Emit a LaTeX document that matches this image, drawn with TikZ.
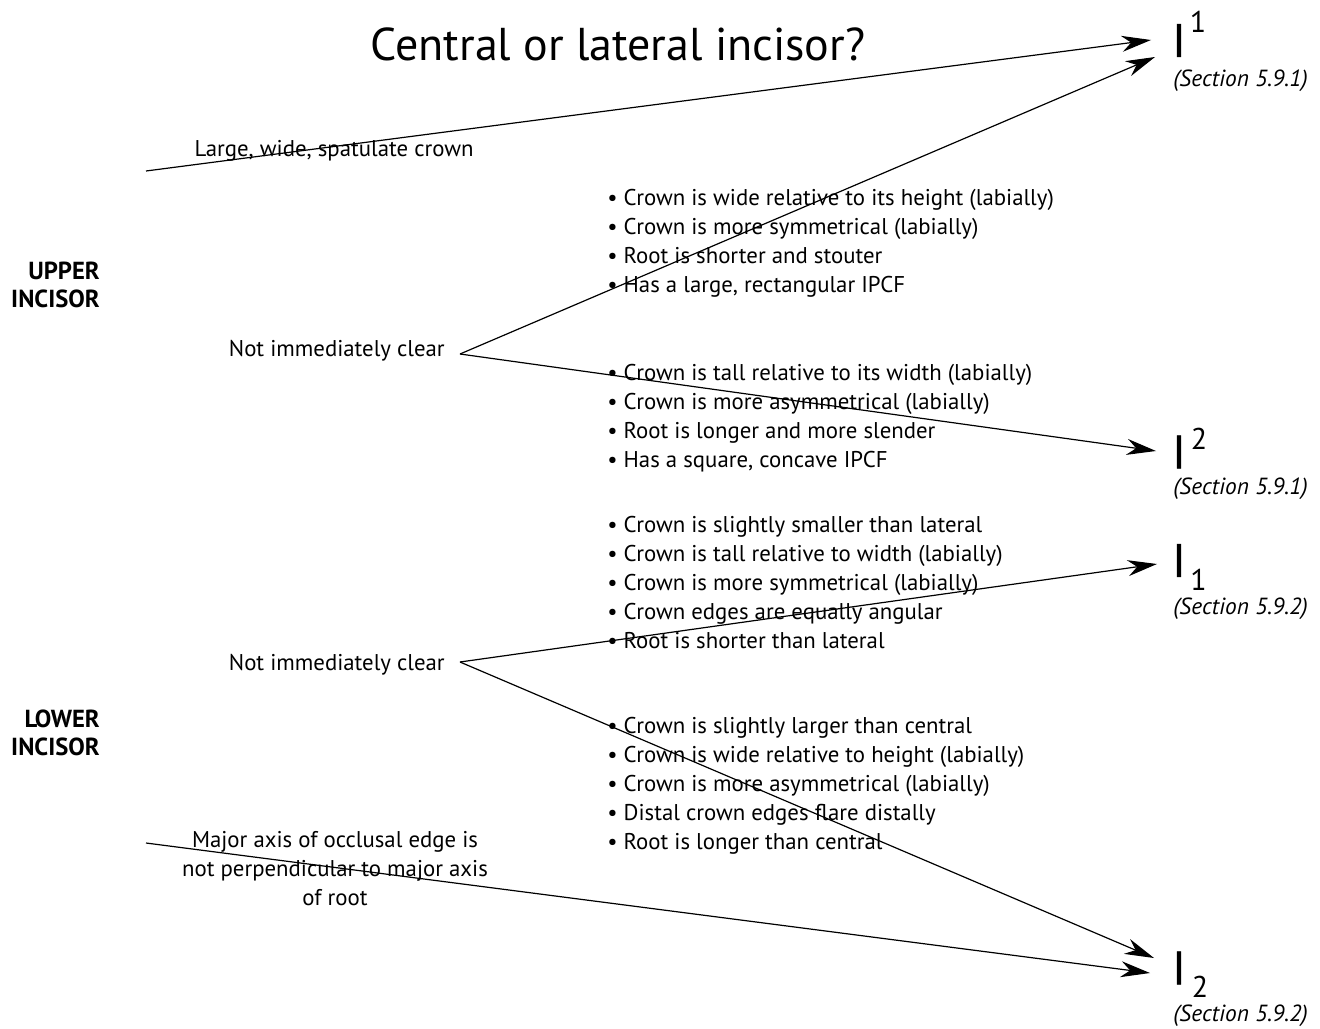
\documentclass[tikz,border=0pt]{standalone}
\usepackage{fontspec}
\setmainfont{PT Sans}
\newfontfamily\bigIfont[FakeBold=1.3]{PT Sans}
\usetikzlibrary{arrows.meta}
\begin{document}
\begin{tikzpicture}[x=0.75pt,y=-0.75pt,
  txt/.style={inner sep=0pt, font=\fontsize{17.1}{21.75}\selectfont},
  lst/.style={txt, anchor=west, align=left},
  cat/.style={inner sep=0pt, align=right, font=\fontsize{18.5}{21}\selectfont\bfseries},
  sec/.style={inner sep=0pt, anchor=west, font=\fontsize{17.5}{18}\selectfont\itshape},
  big/.style={inner sep=0pt, anchor=center, font=\fontsize{35}{36}\bigIfont},
  sup/.style={inner sep=0pt, anchor=center, font=\fontsize{22.5}{23}\selectfont},
  conn/.style={line width=0.9pt, black},
  arr/.style={conn, -{Stealth[length=22pt, width=12pt, inset=7pt]}}
]
\useasboundingbox (0,0) rectangle (1320,1028);

% title
\node[inner sep=0pt, font=\fontsize{34.5}{35}\selectfont] (title) at (618,44) {Central or lateral incisor?};

% targets
\node[big] (i1) at (1179,40.5) {I};
\node[sup] (n1) at (1198,21.5) {1};
\node[sec] (s1) at (1173,81) {(Section 5.9.1)};
\node[big] (i2) at (1179,452) {I};
\node[sup] (n2) at (1199,439) {2};
\node[sec] (s2) at (1173,489) {(Section 5.9.1)};
\node[big] (i3) at (1179,560.5) {I};
\node[sup] (n3) at (1198.5,579.5) {1};
\node[sec] (s3) at (1173,609) {(Section 5.9.2)};
\node[big] (i4) at (1179,968) {I};
\node[sup] (n4) at (1200,986.5) {2};
\node[sec] (s4) at (1173,1016) {(Section 5.9.2)};

% arrow tip coordinates
\coordinate (t1a) at (1151,40);
\coordinate (t1b) at (1155,57);
\coordinate (t2) at (1156,451);
\coordinate (t3) at (1157,564);
\coordinate (t4a) at (1154,958);
\coordinate (t4b) at (1150,973);

% starting points
\coordinate (s0) at (146,171);
\coordinate (vu) at (460,354);
\coordinate (vl) at (460,662);
\coordinate (sm) at (146,843);

% connectors
\draw[arr] (s0) -- (t1a);
\draw[arr] (vu) -- (t1b);
\draw[arr] (vu) -- (t2);
\draw[arr] (vl) -- (t3);
\draw[arr] (vl) -- (t4a);
\draw[arr] (sm) -- (t4b);

% category labels
\node[cat, anchor=east] (upper) at (100,285) {UPPER\\INCISOR};
\node[cat, anchor=east] (lower) at (100,733) {LOWER\\INCISOR};

% branch labels
\node[txt, anchor=center] (large) at (334,151) {Large, wide, spatulate crown};
\node[txt, anchor=east] (niu) at (445,351) {Not immediately clear};
\node[txt, anchor=east] (nil) at (445,665) {Not immediately clear};
\node[txt, align=center] (major) at (335,869) {Major axis of occlusal edge is\\not perpendicular to major axis\\of root};

% lists
\node[lst] (l1) at (607,243) {• Crown is wide relative to its height (labially)\\• Crown is more symmetrical (labially)\\• Root is shorter and stouter\\• Has a large, rectangular IPCF};
\node[lst] (l2) at (607,418) {• Crown is tall relative to its width (labially)\\• Crown is more asymmetrical (labially)\\• Root is longer and more slender\\• Has a square, concave IPCF};
\node[lst] (l3) at (607,583) {• Crown is slightly smaller than lateral\\• Crown is tall relative to width (labially)\\• Crown is more symmetrical (labially)\\• Crown edges are equally angular\\• Root is shorter than lateral};
\node[lst] (l4) at (607,786) {• Crown is slightly larger than central\\• Crown is wide relative to height (labially)\\• Crown is more asymmetrical (labially)\\• Distal crown edges flare distally\\• Root is longer than central};
\end{tikzpicture}
\end{document}
